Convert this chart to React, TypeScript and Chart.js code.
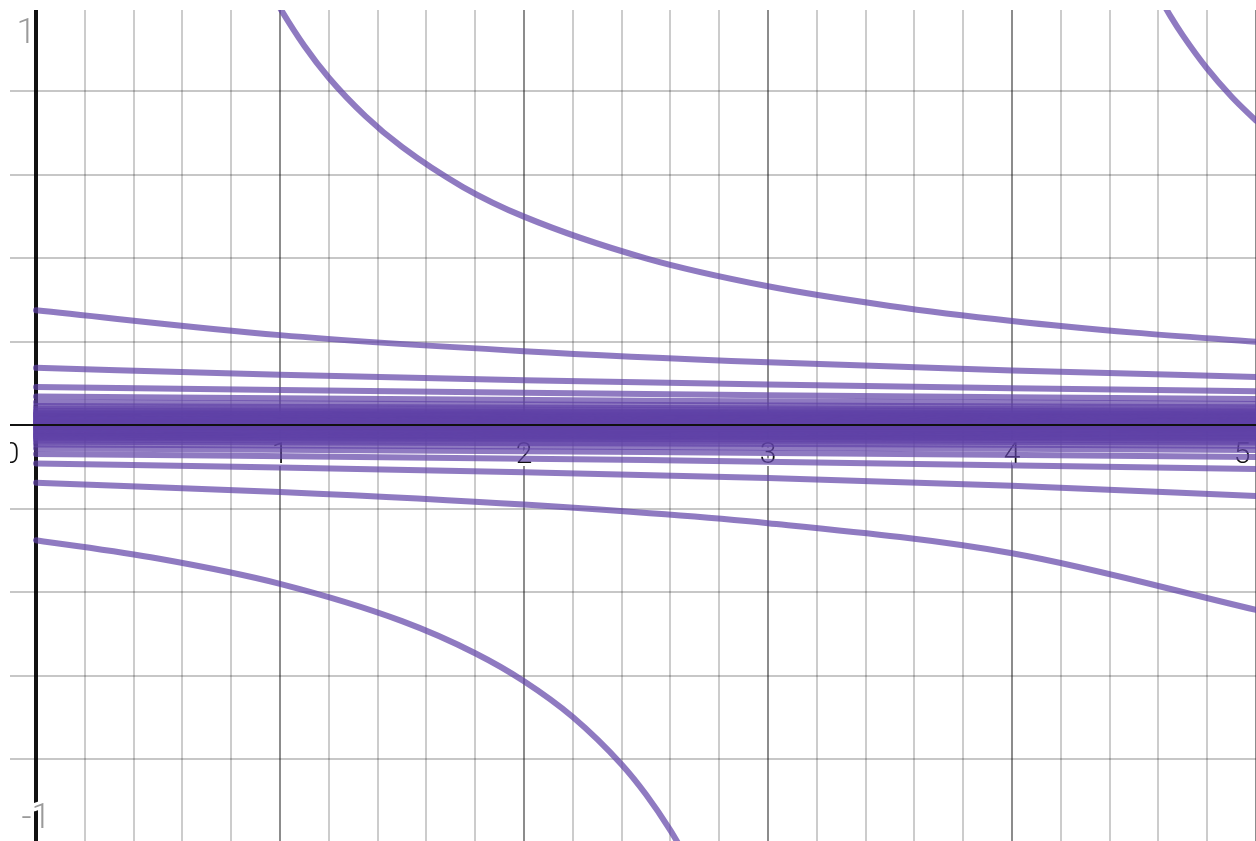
import { useEffect, useRef } from "react";
import { Chart, registerables } from "chart.js";

Chart.register(...registerables);

// ---- axis tick labels / grid ----
const xTickValues = [0, 1, 2, 3, 4, 5];
const xTickLabels = ["0", "1", "2", "3", "4", "5"];
const yTickValues = [1, -1];
const yTickLabels = ["1", "-1"];
const xGridValues = [
  0, 0.2, 0.4, 0.6, 0.8, 1, 1.2, 1.4, 1.6, 1.8, 2, 2.2, 2.4, 2.6, 2.8, 3,
  3.2, 3.4, 3.6, 3.8, 4, 4.2, 4.4, 4.6, 4.8, 5,
];
const yGridValues = [-0.8, -0.6, -0.4, -0.2, 0, 0.2, 0.4, 0.6, 0.8];

// ---- curves ----
// main hyperbola through (1,1), (2,0.5) ...
const mainX = [0.97, 1, 1.1, 1.2, 1.35, 1.5, 1.75, 2, 2.5, 3, 3.5, 4, 4.5, 5];
const mainY = [1.031, 1.0, 0.909, 0.833, 0.741, 0.667, 0.571, 0.5, 0.4, 0.333, 0.286, 0.25, 0.222, 0.2];

// lower-left branch that falls off the bottom near x≈2.65
const lowBranchX = [0, 0.5, 1, 1.5, 1.8, 2, 2.2, 2.4, 2.5, 2.6, 2.66];
const lowBranchY = [-0.2755, -0.3195, -0.3802, -0.4695, -0.5464, -0.6135, -0.6993, -0.813, -0.885, -0.9709, -1.0309];

// upper-right branch entering from the top near x≈4.6
const highBranchX = [4.6, 4.65, 4.7, 4.8, 4.9, 5];
const highBranchY = [1.031, 0.98, 0.9346, 0.8547, 0.7874, 0.7299];

// separate near-flat curves, sampled at x = 0..5
const xEvery = [0, 1, 2, 3, 4, 5];
const upper1 = [0.2755, 0.216, 0.1776, 0.1508, 0.1311, 0.1159];
const upper2 = [0.1377, 0.1211, 0.108, 0.0975, 0.0888, 0.0816];
const upper3 = [0.0918, 0.0842, 0.0776, 0.072, 0.0672, 0.0629];
const lower2 = [-0.1377, -0.1597, -0.1901, -0.2347, -0.3067, -0.4425];
const lower3 = [-0.0918, -0.1011, -0.1125, -0.1267, -0.1451, -0.1698];

// dense band around y = 0, sampled at x = 0, 2.5, 5
const xBand = [0, 2.5, 5];
const bandUpper = [
  [0.06887, 0.05875, 0.05123],
  [0.0551, 0.04843, 0.0432],
  [0.04591, 0.04119, 0.03734],
  [0.03935, 0.03583, 0.03288],
  [0.03444, 0.03171, 0.02938],
  [0.03061, 0.02843, 0.02655],
  [0.02755, 0.02577, 0.02421],
  [0.02504, 0.02357, 0.02226],
  [0.02296, 0.02171, 0.02059],
  [0.01968, 0.01875, 0.01791],
  [0.01722, 0.01651, 0.01585],
  [0.01377, 0.01332, 0.01289],
  [0.01102, 0.01072, 0.01044],
  [0.00861, 0.00843, 0.00825],
  [0.00612, 0.00603, 0.00594],
  [0.00394, 0.0039, 0.00386],
  [0.00184, 0.00183, 0.00182],
];
const bandLower = [
  [-0.06887, -0.08319, -0.10504],
  [-0.0551, -0.0639, -0.07605],
  [-0.04591, -0.05187, -0.05959],
  [-0.03935, -0.04365, -0.049],
  [-0.03444, -0.03768, -0.0416],
  [-0.03061, -0.03315, -0.03614],
  [-0.02755, -0.02959, -0.03195],
  [-0.02504, -0.02672, -0.02863],
  [-0.02296, -0.02435, -0.02593],
  [-0.01968, -0.0207, -0.02182],
  [-0.01722, -0.01799, -0.01884],
  [-0.01377, -0.01427, -0.01479],
  [-0.01102, -0.01133, -0.01166],
  [-0.00861, -0.0088, -0.009],
  [-0.00612, -0.00622, -0.00632],
  [-0.00394, -0.00397, -0.00401],
  [-0.00184, -0.00185, -0.00186],
];

const CURVE_COLOR = "rgba(96, 66, 166, 0.7)";

function pts(xs: number[], ys: number[]) {
  return xs.map((x, i) => ({ x, y: ys[i] }));
}

function isInt(v: number) {
  return Math.abs(v - Math.round(v)) < 1e-6;
}

const labelsPlugin = {
  id: "axisLabels",
  beforeDatasetsDraw(chart: any) {
    const { ctx, chartArea, scales } = chart;
    const xs = scales.x;
    const ys = scales.y;
    ctx.save();
    ctx.beginPath();
    ctx.rect(chartArea.left, chartArea.top, chartArea.right - chartArea.left, chartArea.bottom - chartArea.top);
    ctx.clip();
    ctx.lineJoin = "round";
    // x labels
    ctx.font = "300 30px Roboto, 'Liberation Sans', Arial, sans-serif";
    ctx.textAlign = "center";
    ctx.textBaseline = "alphabetic";
    const y0 = ys.getPixelForValue(0);
    xTickValues.forEach((v, i) => {
      let px = xs.getPixelForValue(v);
      if (v === 0) px -= 25;
      if (i === xTickValues.length - 1) px -= 14;
      const py = y0 + 38;
      ctx.strokeStyle = "#ffffff";
      ctx.lineWidth = 6;
      ctx.strokeText(xTickLabels[i], px, py);
      ctx.fillStyle = "#111111";
      ctx.fillText(xTickLabels[i], px, py);
    });
    // y labels (pinned at the edges, faded)
    ctx.font = "300 35px Roboto, 'Liberation Sans', Arial, sans-serif";
    ctx.textAlign = "right";
    const x0 = xs.getPixelForValue(0);
    yTickValues.forEach((v, i) => {
      const top = v > 0;
      const px = top ? x0 + 0 : x0 + 15;
      const py = top ? chartArea.top + 33 : chartArea.bottom - 13;
      ctx.strokeStyle = "#ffffff";
      ctx.lineWidth = 6;
      ctx.strokeText(yTickLabels[i], px, py);
      ctx.fillStyle = "#9a9a9a";
      ctx.fillText(yTickLabels[i], px, py);
    });
    ctx.restore();
  },
  afterDatasetsDraw(chart: any) {
    const { ctx, chartArea, scales } = chart;
    const y0 = Math.round(scales.y.getPixelForValue(0));
    ctx.save();
    ctx.strokeStyle = "#111111";
    ctx.lineWidth = 2;
    ctx.beginPath();
    ctx.moveTo(chartArea.left, y0);
    ctx.lineTo(chartArea.right, y0);
    ctx.stroke();
    ctx.restore();
  },
};

export default function App() {
  const ref = useRef<HTMLCanvasElement | null>(null);

  useEffect(() => {
    if (!ref.current) return;
    document.body.style.margin = "0";

    const curves: { x: number; y: number }[][] = [];
    bandUpper.forEach((ys) => curves.push(pts(xBand, ys)));
    bandLower.forEach((ys) => curves.push(pts(xBand, ys)));
    curves.push(pts(xEvery, upper3));
    curves.push(pts(xEvery, lower3));
    curves.push(pts(xEvery, upper2));
    curves.push(pts(xEvery, lower2));
    curves.push(pts(xEvery, upper1));
    curves.push(pts(lowBranchX, lowBranchY));
    curves.push(pts(highBranchX, highBranchY));
    curves.push(pts(mainX, mainY));

    const datasets = curves.map((data) => ({
      data,
      showLine: true,
      borderColor: CURVE_COLOR,
      backgroundColor: CURVE_COLOR,
      borderWidth: 6,
      borderCapStyle: "round" as const,
      borderJoinStyle: "round" as const,
      pointRadius: 0,
      pointHoverRadius: 0,
      cubicInterpolationMode: "monotone" as const,
      fill: false,
    }));

    const chart = new Chart(ref.current, {
      type: "scatter",
      data: { datasets },
      options: {
        animation: false,
        responsive: false,
        maintainAspectRatio: false,
        devicePixelRatio: 1,
        layout: { padding: { left: 10, top: 10, right: 0, bottom: 0 } },
        plugins: { legend: { display: false }, tooltip: { enabled: false } },
        events: [],
        scales: {
          x: {
            type: "linear",
            min: -0.1066,
            max: 5.0,
            afterBuildTicks: (scale: any) => {
              scale.ticks = xGridValues.map((v) => ({ value: v }));
            },
            ticks: { display: false, padding: 0 },
            border: { display: false },
            grid: {
              drawTicks: false,
              color: (c: any) => {
                const v = c.tick ? c.tick.value : 1;
                if (Math.abs(v) < 1e-6) return "#111111";
                return isInt(v) ? "rgba(0,0,0,0.45)" : "rgba(0,0,0,0.2)";
              },
              lineWidth: (c: any) => {
                const v = c.tick ? c.tick.value : 1;
                if (Math.abs(v) < 1e-6) return 4;
                return 2;
              },
            },
          },
          y: {
            type: "linear",
            min: -0.9965,
            max: 0.9953,
            afterBuildTicks: (scale: any) => {
              scale.ticks = yGridValues.map((v) => ({ value: v }));
            },
            ticks: { display: false, padding: 0 },
            border: { display: false },
            grid: {
              drawTicks: false,
              color: (c: any) => {
                const v = c.tick ? c.tick.value : 1;
                if (Math.abs(v) < 1e-6) return "#111111";
                return "rgba(0,0,0,0.22)";
              },
              lineWidth: 2,
            },
          },
        },
      },
      plugins: [labelsPlugin],
    });

    return () => chart.destroy();
  }, []);

  return (
    <div style={{ position: "absolute", left: 0, top: 0, width: 1256, height: 841, background: "#ffffff" }}>
      <canvas ref={ref} width={1256} height={841} style={{ display: "block", width: 1256, height: 841 }} />
    </div>
  );
}
